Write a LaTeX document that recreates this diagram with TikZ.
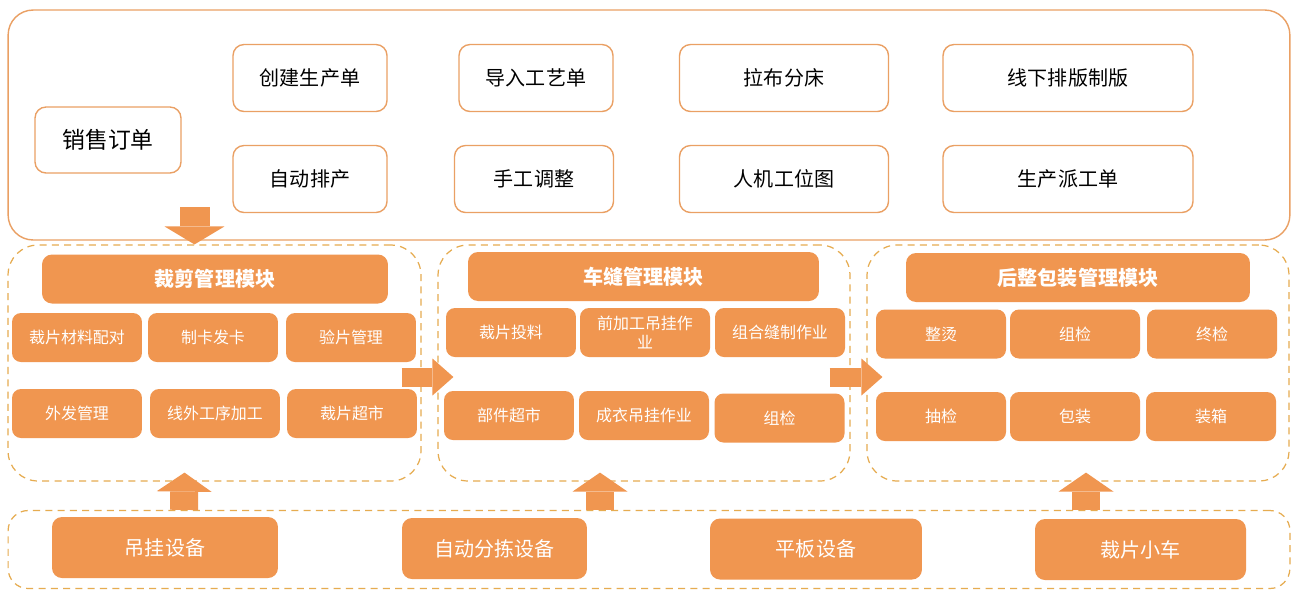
\documentclass[tikz,border=0pt]{standalone}
\usepackage{fontspec}
\setmainfont{Noto Sans CJK SC}
\usetikzlibrary{arrows.meta,calc}
\definecolor{chengse}{RGB}{240,150,80}
\definecolor{biankuang}{RGB}{234,160,100}
\definecolor{xuxian}{RGB}{230,172,80}

\tikzset{
  dakuang/.style={draw=biankuang,line width=0.8pt,rounded corners=0.5cm,inner sep=0pt},
  mokuai/.style={draw=xuxian,line width=0.7pt,dash pattern=on 4pt off 3pt,rounded corners=0.6cm,inner sep=0pt},
  baikuang/.style={draw=biankuang,line width=0.8pt,fill=white,rounded corners=0.22cm,inner sep=0pt,minimum height=1.34cm,font=\fontsize{11.4}{13}\selectfont},
  biaoti/.style={fill=chengse,text=white,rounded corners=0.2cm,inner sep=0pt,minimum height=0.98cm,font=\bfseries\fontsize{11.4}{13}\selectfont},
  xiaokuang/.style={fill=chengse,text=white,rounded corners=0.18cm,inner sep=0pt,minimum width=2.6cm,minimum height=0.98cm,align=center,font=\fontsize{9.1}{10.5}\selectfont},
  shebei/.style={fill=chengse,text=white,rounded corners=0.2cm,inner sep=0pt,minimum height=1.22cm,font=\fontsize{11.4}{13}\selectfont},
  xiajian/.style={chengse,line width=0.6cm,-{Triangle[length=0.36cm,width=1.2cm,line width=0pt]}},
  youjian/.style={chengse,line width=0.38cm,-{Triangle[length=0.42cm,width=0.74cm,line width=0pt]}},
  shangjian/.style={chengse,line width=0.56cm,-{Triangle[length=0.38cm,width=1.1cm,line width=0pt]}}
}

\begin{document}
\begin{tikzpicture}[x=0.02cm,y=-0.02cm]
      \path[fill=white,use as bounding box] (0,0) rectangle (1300,600);

      % containers
      \node[dakuang,minimum width=25.64cm,minimum height=4.6cm] (jihua) at (649,125) {};
      \node[mokuai,minimum width=8.26cm,minimum height=4.72cm] (caijian) at (214.5,363) {};
      \node[mokuai,minimum width=8.24cm,minimum height=4.72cm] (chefeng) at (644,363) {};
      \node[mokuai,minimum width=8.44cm,minimum height=4.72cm] (houzheng) at (1078,363) {};
      \node[mokuai,rounded corners=0.4cm,minimum width=25.64cm,minimum height=1.56cm] (shebeiqu) at (649,549.5) {};

      % planning
      \node[baikuang,minimum width=2.92cm,minimum height=1.32cm,font=\fontsize{13}{15}\selectfont] (xiaoshou) at (108,140) {销售订单};
      \node[baikuang,minimum width=3.08cm] (chuangjian) at (310,78) {创建生产单};
      \node[baikuang,minimum width=3.08cm] (paichan) at (310,179) {自动排产};
      \node[baikuang,minimum width=3.08cm] (daoru) at (536,78) {导入工艺单};
      \node[baikuang,minimum width=3.18cm] (tiaozheng) at (534,179) {手工调整};
      \node[baikuang,minimum width=4.18cm] (labu) at (784,78) {拉布分床};
      \node[baikuang,minimum width=4.18cm] (gongwei) at (784,179) {人机工位图};
      \node[baikuang,minimum width=5cm] (paiban) at (1068,78) {线下排版制版};
      \node[baikuang,minimum width=5cm] (paigong) at (1068,179) {生产派工单};

      % modules
      \node[biaoti,minimum width=6.92cm] (caijiant) at (215,279) {裁剪管理模块};
      \node[xiaokuang] (peidui) at (77,337.5) {裁片材料配对};
      \node[xiaokuang] (zhika) at (213,337.5) {制卡发卡};
      \node[xiaokuang] (yanpian) at (351,337.5) {验片管理};
      \node[xiaokuang] (waifa) at (77,413.5) {外发管理};
      \node[xiaokuang] (xianwai) at (215,413.5) {线外工序加工};
      \node[xiaokuang] (chaoshi) at (352,413.5) {裁片超市};

      \node[biaoti,minimum width=7.02cm] (chefengt) at (643.5,276.5) {车缝管理模块};
      \node[xiaokuang] (touliao) at (511,332.5) {裁片投料};
      \node[xiaokuang] (qianjiagong) at (645,332.5) {前加工吊挂作\\业};
      \node[xiaokuang] (zuhe) at (780,332.5) {组合缝制作业};
      \node[xiaokuang] (bujian) at (509,415.5) {部件超市};
      \node[xiaokuang] (chengyi) at (644,415.5) {成衣吊挂作业};
      \node[xiaokuang] (zujian) at (779.5,418) {组检};

      \node[biaoti,minimum width=6.88cm] (houzhengt) at (1078,277.5) {后整包装管理模块};
      \node[xiaokuang] (zhengtang) at (941,334) {整烫};
      \node[xiaokuang] (zujian2) at (1075,334) {组检};
      \node[xiaokuang] (zhongjian) at (1212,334) {终检};
      \node[xiaokuang] (choujian) at (941,416.5) {抽检};
      \node[xiaokuang] (baozhuang) at (1075,416.5) {包装};
      \node[xiaokuang] (zhuangxiang) at (1211,416.5) {装箱};

      % equipment
      \node[shebei,minimum width=4.52cm] (diaogua) at (165,547.5) {吊挂设备};
      \node[shebei,minimum width=3.7cm] (fenjian) at (494.5,548.5) {自动分拣设备};
      \node[shebei,minimum width=4.24cm] (pingban) at (816,549) {平板设备};
      \node[shebei,minimum width=4.22cm] (xiaoche) at (1140.5,549.5) {裁片小车};

      \draw[xiajian] ($(caijian.north)+(-20,-37)$) -- ($(caijian.north)+(-20,0)$);
      \draw[youjian] ($(caijian.east)+(-20,14)$) -- ($(chefeng.west)+(16,14)$);
      \draw[youjian] ($(chefeng.east)+(-21,14)$) -- ($(houzheng.west)+(16,14)$);
      \draw[shangjian] ($(shebeiqu.north)+(-465,0)$) -- ($(caijian.south)+(-30,-9)$);
      \draw[shangjian] ($(shebeiqu.north)+(-49,0)$) -- ($(chefeng.south)+(-44,-9)$);
      \draw[shangjian] ($(shebeiqu.north)+(437,0)$) -- ($(houzheng.south)+(8,-9)$);
\end{tikzpicture}
\end{document}
